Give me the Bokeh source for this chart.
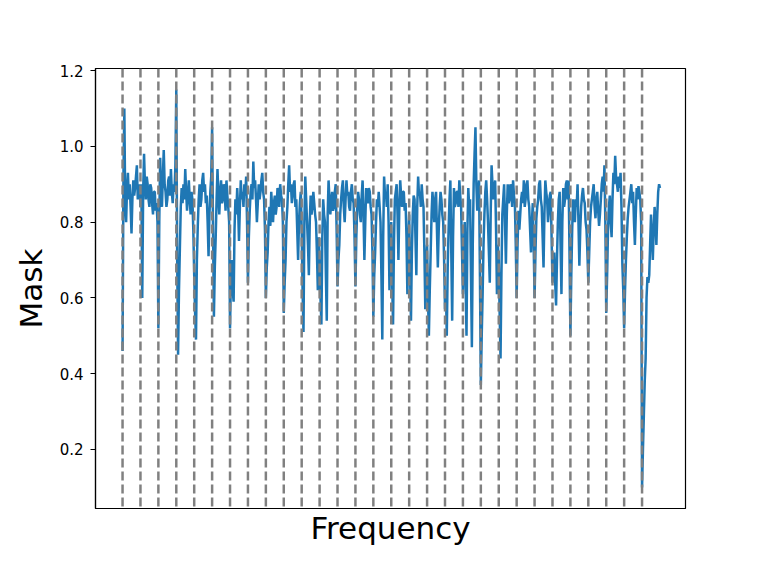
from bokeh.plotting import figure
from bokeh.models import Range1d, Span, FixedTicker
from bokeh.embed import file_html
from bokeh.resources import INLINE

# ---- data ----
freq_bins = list(range(0, 601))

mask_values = [
    0.46, 0.92, 1.10, 0.84, 0.80, 0.89, 0.93, 0.86, 0.90, 0.84,
    0.77, 0.86, 0.91, 0.87, 0.89, 0.92, 0.95, 0.86, 0.88, 0.90,
    0.84, 0.90, 0.60, 0.88, 0.98, 0.90, 0.86, 0.92, 0.90, 0.86,
    0.84, 0.90, 0.89, 0.85, 0.82, 0.88, 0.88, 0.83, 0.85, 0.80,
    0.52, 0.80, 0.97, 0.88, 0.84, 0.92, 0.99, 0.90, 0.88, 0.84,
    0.86, 0.91, 0.92, 0.87, 0.94, 0.88, 0.85, 0.90, 0.88, 0.95,
    1.15, 0.70, 0.45, 0.62, 0.73, 0.84, 0.89, 0.85, 0.90, 0.86,
    0.94, 0.88, 0.83, 0.87, 0.91, 0.86, 0.82, 0.88, 0.86, 0.78,
    0.66, 0.56, 0.49, 0.70, 0.79, 0.86, 0.90, 0.84, 0.86, 0.91,
    0.93, 0.88, 0.90, 0.85, 0.87, 0.80, 0.71, 0.82, 0.88, 0.92,
    1.05, 0.78, 0.55, 0.68, 0.76, 0.86, 0.94, 0.87, 0.82, 0.88,
    0.91, 0.85, 0.86, 0.90, 0.88, 0.83, 0.91, 0.87, 0.84, 0.80,
    0.52, 0.66, 0.70, 0.62, 0.59, 0.78, 0.86, 0.82, 0.89, 0.84,
    0.75, 0.84, 0.91, 0.86, 0.88, 0.84, 0.90, 0.87, 0.92, 0.80,
    0.64, 0.76, 0.83, 0.88, 0.90, 0.86, 0.96, 0.89, 0.91, 0.86,
    0.80, 0.85, 0.90, 0.86, 0.88, 0.91, 0.93, 0.88, 0.86, 0.78,
    0.60, 0.68, 0.72, 0.80, 0.84, 0.79, 0.88, 0.84, 0.80, 0.85,
    0.87, 0.82, 0.84, 0.89, 0.88, 0.84, 0.90, 0.87, 0.86, 0.80,
    0.56, 0.64, 0.70, 0.80, 0.84, 0.90, 0.95, 0.88, 0.90, 0.85,
    0.87, 0.90, 0.91, 0.84, 0.86, 0.78, 0.70, 0.80, 0.85, 0.88,
    0.78, 0.62, 0.51, 0.80, 0.92, 0.86, 0.80, 0.74, 0.66, 0.80,
    0.87, 0.82, 0.84, 0.88, 0.85, 0.82, 0.80, 0.72, 0.62, 0.76,
    0.70, 0.60, 0.53, 0.76, 0.86, 0.82, 0.80, 0.66, 0.54, 0.82,
    0.91, 0.86, 0.82, 0.86, 0.88, 0.83, 0.84, 0.88, 0.90, 0.78,
    0.63, 0.70, 0.74, 0.82, 0.86, 0.89, 0.91, 0.84, 0.80, 0.86,
    0.91, 0.87, 0.88, 0.84, 0.83, 0.88, 0.90, 0.86, 0.85, 0.76,
    0.63, 0.76, 0.84, 0.88, 0.86, 0.82, 0.80, 0.87, 0.91, 0.82,
    0.70, 0.80, 0.89, 0.86, 0.85, 0.89, 0.88, 0.84, 0.82, 0.72,
    0.55, 0.66, 0.72, 0.80, 0.86, 0.84, 0.88, 0.84, 0.80, 0.66,
    0.49, 0.76, 0.92, 0.87, 0.88, 0.84, 0.90, 0.80, 0.62, 0.74,
    0.80, 0.64, 0.53, 0.74, 0.86, 0.88, 0.90, 0.82, 0.70, 0.84,
    0.91, 0.87, 0.84, 0.88, 0.88, 0.83, 0.85, 0.76, 0.61, 0.74,
    0.82, 0.66, 0.54, 0.72, 0.82, 0.87, 0.86, 0.76, 0.66, 0.84,
    0.92, 0.87, 0.88, 0.84, 0.90, 0.86, 0.84, 0.72, 0.57, 0.68,
    0.74, 0.60, 0.50, 0.62, 0.72, 0.82, 0.88, 0.84, 0.80, 0.86,
    0.88, 0.78, 0.68, 0.78, 0.84, 0.88, 0.86, 0.82, 0.80, 0.70,
    0.57, 0.62, 0.50, 0.68, 0.78, 0.86, 0.91, 0.72, 0.54, 0.76,
    0.89, 0.84, 0.85, 0.88, 0.88, 0.84, 0.91, 0.87, 0.84, 0.72,
    0.61, 0.72, 0.80, 0.64, 0.50, 0.78, 0.89, 0.84, 0.86, 0.66,
    0.47, 0.74, 0.90, 0.98, 1.05, 0.90, 0.83, 0.88, 0.91, 0.66,
    0.37, 0.50, 0.61, 0.74, 0.82, 0.88, 0.91, 0.86, 0.80, 0.72,
    0.64, 0.82, 0.95, 0.90, 0.86, 0.89, 0.91, 0.78, 0.61, 0.74,
    0.70, 0.56, 0.44, 0.66, 0.82, 0.86, 0.90, 0.80, 0.69, 0.82,
    0.90, 0.85, 0.86, 0.90, 0.88, 0.84, 0.91, 0.87, 0.85, 0.74,
    0.60, 0.74, 0.83, 0.78, 0.82, 0.86, 0.88, 0.85, 0.91, 0.84,
    0.86, 0.90, 0.91, 0.86, 0.84, 0.78, 0.72, 0.80, 0.85, 0.74,
    0.60, 0.72, 0.81, 0.84, 0.86, 0.90, 0.91, 0.86, 0.84, 0.76,
    0.68, 0.82, 0.91, 0.88, 0.86, 0.80, 0.83, 0.87, 0.88, 0.76,
    0.64, 0.68, 0.72, 0.64, 0.58, 0.70, 0.80, 0.86, 0.88, 0.74,
    0.61, 0.80, 0.89, 0.84, 0.86, 0.90, 0.91, 0.86, 0.91, 0.72,
    0.50, 0.66, 0.78, 0.86, 0.82, 0.80, 0.86, 0.84, 0.90, 0.80,
    0.685, 0.78, 0.84, 0.87, 0.89, 0.86, 0.85, 0.80, 0.78, 0.72,
    0.64, 0.72, 0.80, 0.84, 0.86, 0.88, 0.90, 0.84, 0.81, 0.86,
    0.88, 0.83, 0.79, 0.82, 0.86, 0.90, 0.92, 0.88, 0.95, 0.80,
    0.56, 0.66, 0.78, 0.84, 0.87, 0.80, 0.76, 0.86, 0.93, 0.90,
    0.975, 0.92, 0.90, 0.88, 0.92, 0.89, 0.93, 0.84, 0.69, 0.62,
    0.52, 0.62, 0.70, 0.76, 0.81, 0.84, 0.86, 0.88, 0.90, 0.85,
    0.88, 0.80, 0.74, 0.82, 0.89, 0.86, 0.895, 0.88, 0.86, 0.80,
    0.10, 0.20, 0.29, 0.38, 0.44, 0.60, 0.655, 0.64, 0.66, 0.74,
    0.82, 0.76, 0.70, 0.78, 0.84, 0.80, 0.74, 0.82, 0.88, 0.90,
    0.89,
]

harmonic_bins = [0, 20, 40, 60, 80, 100, 120, 140, 160, 180,
                 200, 220, 240, 260, 280, 300, 320, 340, 360, 380,
                 400, 420, 440, 460, 480, 500, 520, 540, 560, 580]

y_ticks = [0.2, 0.4, 0.6, 0.8, 1.0, 1.2]
y_tick_labels = ["0.2", "0.4", "0.6", "0.8", "1.0", "1.2"]

FONT = "DejaVu Sans"

n = min(len(freq_bins), len(mask_values))

p = figure(width=745, height=555, output_backend="svg", toolbar_location=None,
           x_range=Range1d(-30.2, 628.5), y_range=Range1d(0.0443, 1.2053),
           min_border_left=95, min_border_top=68, min_border_right=60,
           min_border_bottom=47)

p.background_fill_color = "white"
p.border_fill_color = "white"
p.outline_line_color = "black"
p.outline_line_width = 1.2
p.xgrid.visible = False
p.ygrid.visible = False

p.line(freq_bins[:n], mask_values[:n], line_color="#1f77b4", line_width=2.5)

for hb in harmonic_bins:
    p.add_layout(Span(location=hb, dimension="height", line_color="#808080",
                      line_width=2.5, line_dash="9 4"))

# x axis
p.xaxis.ticker = FixedTicker(ticks=[])
p.xaxis.minor_tick_line_color = None
p.xaxis.major_tick_out = 0
p.xaxis.major_label_standoff = 0
p.xaxis.axis_label = "Frequency"
p.xaxis.axis_label_text_font = FONT
p.xaxis.axis_label_text_font_size = "31px"
p.xaxis.axis_label_text_font_style = "normal"
p.xaxis.axis_label_text_color = "black"
p.xaxis.axis_label_standoff = 1
p.xaxis.axis_line_color = "black"
p.xaxis.axis_line_width = 1.2

# y axis
p.yaxis.ticker = FixedTicker(ticks=y_ticks)
p.yaxis.major_label_overrides = {t: l for t, l in zip(y_ticks, y_tick_labels)}
p.yaxis.minor_tick_line_color = None
p.yaxis.major_tick_out = 5
p.yaxis.major_tick_in = 0
p.yaxis.major_tick_line_width = 1.2
p.yaxis.major_tick_line_color = "black"
p.yaxis.major_label_standoff = 7
p.yaxis.major_label_text_font = FONT
p.yaxis.major_label_text_font_size = "15px"
p.yaxis.major_label_text_color = "black"
p.yaxis.axis_label = "Mask"
p.yaxis.axis_label_text_font = FONT
p.yaxis.axis_label_text_font_size = "31px"
p.yaxis.axis_label_text_font_style = "normal"
p.yaxis.axis_label_text_color = "black"
p.yaxis.axis_label_standoff = 8
p.yaxis.axis_line_color = "black"
p.yaxis.axis_line_width = 1.2

open("out.html", "w").write(file_html(p, INLINE))
